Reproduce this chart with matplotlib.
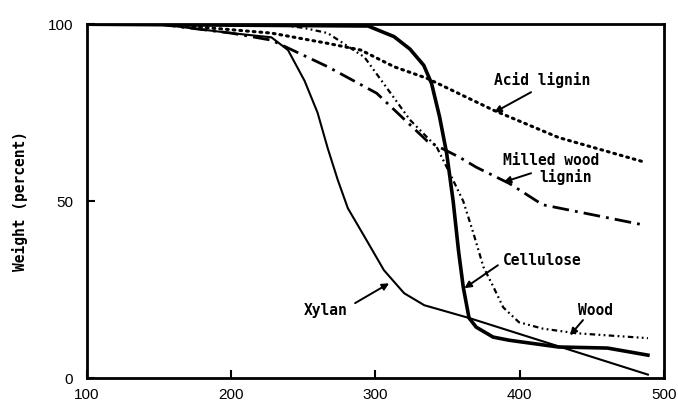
import matplotlib
matplotlib.use("Agg")
import matplotlib.pyplot as plt

# temperature (deg C) vs weight (percent)
xylan_t = [150, 200, 228, 239.5, 251, 260, 267, 274, 281, 292.5, 306, 320, 334, 365, 489]
xylan_w = [100, 97.5, 96.3, 92.7, 84, 75, 65, 56, 48, 40, 30.5, 24, 20.6, 17, 1]

cell_t = [100, 295, 313, 324, 333.6, 339, 344.6, 349.5, 354, 357.7, 361, 365, 370, 381.7, 393, 427, 461, 489]
cell_w = [100, 99.5, 96.5, 93, 88.4, 83.3, 73.8, 63.5, 50, 36, 25.7, 17, 14.4, 11.6, 10.7, 8.8, 8.5, 6.5]

wood_t = [100, 230, 250, 267, 292.5, 308, 324, 342.6, 351.5, 361, 368, 375, 382, 388.7, 399.6, 416, 439, 489]
wood_w = [100, 100, 99, 97.5, 90.7, 82, 73, 65.3, 58, 50, 41, 31.4, 25.7, 20, 15.8, 14, 12.7, 11.3]

acid_t = [155, 228, 267, 290, 313, 336, 382, 427, 487]
acid_w = [100, 97.5, 94.6, 92.7, 88, 84.7, 75.7, 68, 61]

mwl_t = [150, 200, 228, 267, 301, 336, 358.5, 370, 393, 416, 487]
mwl_w = [100, 97.5, 95.5, 88, 80.5, 67, 62.4, 59.6, 55, 49, 43.2]

mono = "DejaVu Sans Mono"

fig = plt.figure(figsize=(6.78, 4.04), dpi=100)
ax = fig.add_axes([0.128, 0.064, 0.851, 0.876])

ax.plot(acid_t, acid_w, color="k", lw=2.2, linestyle=(0, (0.6, 1.6)), dash_capstyle="round")
ax.plot(mwl_t, mwl_w, color="k", lw=2.0, linestyle=(0, (6, 2.2, 1, 2.2)))
ax.plot(wood_t, wood_w, color="k", lw=1.6, linestyle=(0, (2.5, 1.5, 0.8, 1.5, 0.8, 1.5)))
ax.plot(xylan_t, xylan_w, color="k", lw=1.5)
ax.plot(cell_t, cell_w, color="k", lw=2.6)

arrow = dict(arrowstyle="-|>", color="k", lw=1.4, mutation_scale=10, shrinkA=0, shrinkB=0)
ax.annotate("", xy=(382.5, 75.1), xytext=(408, 80.8), arrowprops=arrow)
ax.annotate("", xy=(389, 55.4), xytext=(408, 57.9), arrowprops=arrow)
ax.annotate("", xy=(361.8, 25.4), xytext=(385, 31.9), arrowprops=arrow)
ax.annotate("", xy=(309.6, 26.8), xytext=(286, 21.2), arrowprops=arrow)
ax.annotate("", xy=(435, 12.1), xytext=(444, 16.4), arrowprops=arrow)

tkw = dict(family=mono, fontsize=10.5, fontweight="bold", color="k")
ax.text(416, 84.2, "Acid lignin", ha="center", va="center", **tkw)
ax.text(421.6, 61.6, "Milled wood", ha="center", va="center", **tkw)
ax.text(432, 56.8, "lignin", ha="center", va="center", **tkw)
ax.text(388.6, 33.3, "Cellulose", ha="left", va="center", **tkw)
ax.text(265.6, 19.2, "Xylan", ha="center", va="center", **tkw)
ax.text(453, 19.2, "Wood", ha="center", va="center", **tkw)

ax.set_xlim(100, 500)
ax.set_ylim(0, 100)
ax.set_xticks([100, 200, 300, 400, 500])
ax.set_yticks([0, 50, 100])
ax.tick_params(direction="in", length=6, width=1.5, labelsize=11)
ax.tick_params(axis="y", pad=10)
ax.tick_params(axis="x", pad=7)
for lab in ax.get_xticklabels() + ax.get_yticklabels():
    lab.set_family("Liberation Sans")
for s in ax.spines.values():
    s.set_linewidth(2)
ax.set_ylabel("Weight (percent)", family=mono, fontsize=10.5, fontweight="bold", labelpad=14)

fig.savefig("out.png", dpi=100)
